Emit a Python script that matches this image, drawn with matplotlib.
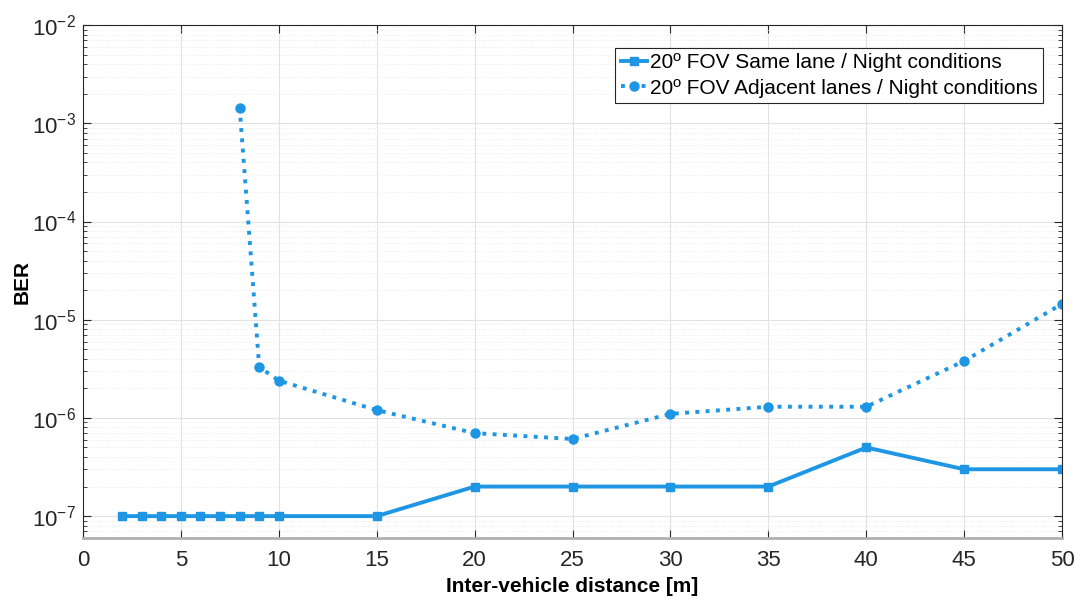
import matplotlib
matplotlib.use("Agg")
import matplotlib.pyplot as plt
from matplotlib.ticker import LogLocator, NullFormatter

plt.rcParams['font.family'] = ['Liberation Sans', 'DejaVu Sans']

# Data
x_same = [2, 3, 4, 5, 6, 7, 8, 9, 10, 15, 20, 25, 30, 35, 40, 45, 50]
ber_same = [1e-7, 1e-7, 1e-7, 1e-7, 1e-7, 1e-7, 1e-7, 1e-7, 1e-7, 1e-7,
            2e-7, 2e-7, 2e-7, 2e-7, 5e-7, 3e-7, 3e-7]

x_adj = [8, 9, 10, 15, 20, 25, 30, 35, 40, 45, 50]
ber_adj = [1.45e-3, 3.3e-6, 2.4e-6, 1.2e-6, 7e-7, 6.1e-7, 1.1e-6, 1.3e-6,
           1.3e-6, 3.8e-6, 1.45e-5]

label_same = '20º FOV Same lane / Night conditions'
label_adj = '20º FOV Adjacent lanes / Night conditions'

color = '#1E96E4'

fig = plt.figure(figsize=(10.75, 5.99), dpi=100)
ax = fig.add_axes([0.0772, 0.102, 0.9108, 0.856])

ax.semilogy(x_same, ber_same, '-', color=color, linewidth=2.8,
            marker='s', markersize=6, label=label_same)
ax.semilogy(x_adj, ber_adj, ':', color=color, linewidth=2.8,
            marker='o', markersize=6.5, label=label_adj)

ax.set_xlim(0, 50)
ax.set_ylim(6e-8, 1e-2)
ax.set_xticks(range(0, 51, 5))
ax.yaxis.set_major_locator(LogLocator(base=10, numticks=10))
ax.yaxis.set_minor_locator(LogLocator(base=10, subs=range(2, 10), numticks=20))
ax.yaxis.set_minor_formatter(NullFormatter())

ax.grid(True, which='major', color='#e2e2e2', linewidth=0.8)
ax.grid(True, which='minor', axis='y', color='#e8e8e8', linewidth=0.6, linestyle=':')
ax.set_axisbelow(True)

ax.tick_params(which='both', direction='in', top=True, right=True,
               labelsize=16, colors='#262626')
ax.tick_params(which='major', length=6)
ax.tick_params(which='minor', length=3)
ax.tick_params(axis='x', pad=9)
ax.tick_params(axis='y', pad=5)
for s in ax.spines.values():
    s.set_color('#262626')
    s.set_linewidth(0.8)
ax.spines['bottom'].set_color('#b0b0b0')
ax.spines['bottom'].set_linewidth(2)

ax.set_xlabel('Inter-vehicle distance [m]', fontsize=15, fontweight='bold', labelpad=4)
ax.set_ylabel('BER', fontsize=15, fontweight='bold', labelpad=0)

leg = ax.legend(loc='upper right', bbox_to_anchor=(0.98, 0.955), fontsize=15,
                fancybox=False, edgecolor='#262626', framealpha=1,
                handlelength=1.25, handletextpad=0.15, borderpad=0.25,
                labelspacing=0.3, borderaxespad=0)
leg.get_frame().set_linewidth(0.8)

fig.savefig('out.png', dpi=100)
